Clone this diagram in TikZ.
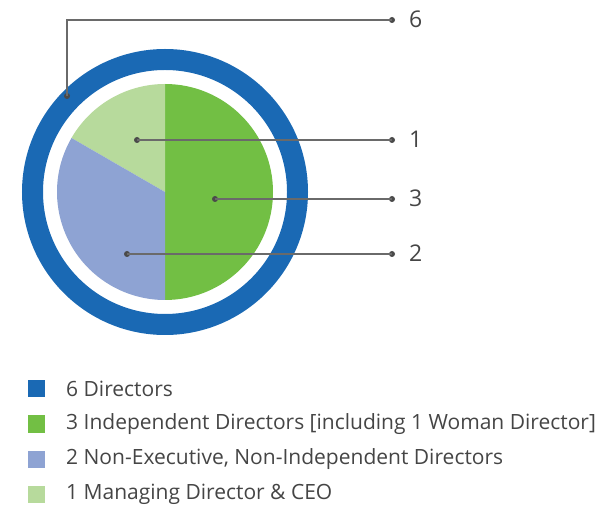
\documentclass[tikz,border=0pt]{standalone}
\usepackage{fontspec}
\setmainfont{Open Sans}
\usepackage{tikz}

\definecolor{ringblue}{HTML}{1A69B4}
\definecolor{indgreen}{HTML}{72BF44}
\definecolor{nonexec}{HTML}{8EA3D3}
\definecolor{mdgreen}{HTML}{B7DA9C}
\definecolor{leadgray}{HTML}{6A6A6A}
\definecolor{dotgray}{HTML}{4A4A4A}
\definecolor{txtgray}{HTML}{454545}

\begin{document}
\begin{tikzpicture}[x=1pt,y=1pt,
    leader/.style={leadgray,line width=1.1pt},
    dot/.style={circle,fill=dotgray,inner sep=0pt,minimum size=6pt},
    num/.style={anchor=west,inner sep=0pt,text=txtgray,font=\fontsize{23}{26}\selectfont},
    key/.style={minimum size=17pt,inner sep=0pt},
    keytext/.style={anchor=west,inner sep=0pt,text=txtgray,font=\fontsize{21}{24}\selectfont}]
        \useasboundingbox (0,0) rectangle (602,506);
        \coordinate (c) at (165,314);
        % outer ring and pie
        \draw[ringblue,line width=21pt] (c) circle[radius=132.5];
        \fill[indgreen] (c) -- ++(90:108) arc[start angle=90,end angle=-90,radius=108] -- cycle;
        \fill[mdgreen] (c) -- ++(90:108) arc[start angle=90,end angle=150,radius=108] -- cycle;
        \fill[nonexec] (c) -- ++(150:108) arc[start angle=150,end angle=270,radius=108] -- cycle;
        % leaders
        \node[dot] (d6) at (67,410) {};
        \coordinate (k6) at (67,486);
        \node[dot] (e6) at (392,486) {};
        \node[num] (n6) at (409,487) {6};
        \node[dot] (d1) at (137,366) {};
        \node[dot] (e1) at (392,366) {};
        \node[num] (n1) at (409,367) {1};
        \node[dot] (d3) at (215,307) {};
        \node[dot] (e3) at (392,307) {};
        \node[num] (n3) at (409,308) {3};
        \node[dot] (d2) at (127,252) {};
        \node[dot] (e2) at (392,252) {};
        \node[num] (n2) at (409,253) {2};
        \draw[leader] (d6.center) -- (k6) -- (e6.center);
        \draw[leader] (d1.center) -- (e1.center);
        \draw[leader] (d3.center) -- (e3.center);
        \draw[leader] (d2.center) -- (e2.center);
        % legend
        \node[key,fill=ringblue] (s1) at (36.5,117) {};
        \node[keytext] (t1) at (66,117) {6 Directors};
        \node[key,fill=indgreen] (s2) at (36.5,82) {};
        \node[keytext] (t2) at (66,82) {3 Independent Directors [including 1 Woman Director]};
        \node[key,fill=nonexec] (s3) at (36.5,47) {};
        \node[keytext] (t3) at (66,47) {2 Non-Executive, Non-Independent Directors};
        \node[key,fill=mdgreen] (s4) at (36.5,12) {};
        \node[keytext] (t4) at (66,12) {1 Managing Director \& CEO};
      \end{tikzpicture}
\end{document}
